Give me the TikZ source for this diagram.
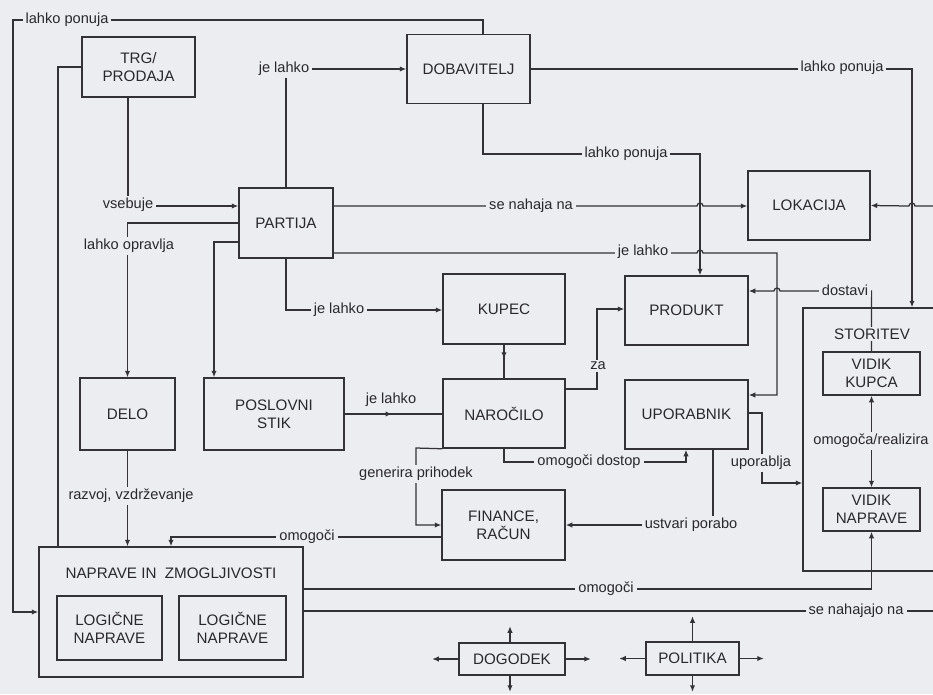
\documentclass[tikz,border=0pt]{standalone}
\usepackage{fontspec}
\setmainfont{Liberation Sans}
\usetikzlibrary{arrows.meta}
\definecolor{bg}{RGB}{236,237,240}
\definecolor{ln}{RGB}{50,50,55}
\definecolor{tx}{RGB}{40,40,45}
\newcommand{\fsz}{\fontsize{14.6pt}{18pt}\selectfont}
\newcommand{\bsz}{\fontsize{15.2pt}{18pt}\selectfont}
\begin{document}
\begin{tikzpicture}[x=1pt,y=-1pt,
  box/.style={draw=ln, line width=1.5pt, fill=bg, text=tx, align=center, inner sep=0pt, font=\bsz},
  lbl/.style={fill=bg, text=tx, inner xsep=3pt, inner ysep=2pt, font=\fsz},
  plain/.style={text=tx, inner sep=1pt, font=\fsz},
  con/.style={draw=ln, line width=1.25pt},
  arr/.style={con, -{Latex[length=6.5pt,width=5.5pt]}},
  darr/.style={con, {Latex[length=6.5pt,width=5.5pt]}-{Latex[length=6.5pt,width=5.5pt]}},
]
\useasboundingbox (0,0) rectangle (933,694);
\fill[bg] (0,0) rectangle (933,694);
\clip (0,0) rectangle (933,694);

% boxes
\node[box, minimum width=113pt, minimum height=60pt] (trg) at (138.5,67) {TRG/\\PRODAJA};
\node[box, minimum width=123pt, minimum height=69pt] (dob) at (468.5,69) {DOBAVITELJ};
\node[box, minimum width=94pt, minimum height=70pt] (part) at (286,223) {PARTIJA};
\node[box, minimum width=122pt, minimum height=69pt] (lok) at (809,205.5) {LOKACIJA};
\node[box, minimum width=122pt, minimum height=70pt] (kup) at (504,309) {KUPEC};
\node[box, minimum width=123pt, minimum height=69pt] (prod) at (686.5,310.5) {PRODUKT};
\node[box, minimum width=122pt, minimum height=69pt] (nar) at (504,413.5) {NAROČILO};
\node[box, minimum width=123pt, minimum height=69pt] (upo) at (686.5,414.5) {UPORABNIK};
\node[box, minimum width=95pt, minimum height=72pt] (delo) at (127.5,414) {DELO};
\node[box, minimum width=140pt, minimum height=72pt] (pos) at (274,414) {POSLOVNI\\STIK};
\node[box, minimum width=123pt, minimum height=70pt] (fin) at (503.5,525) {FINANCE,\\RAČUN};
\node[box, minimum width=264pt, minimum height=130pt] (nap) at (171,612) {};
\node[plain, font=\bsz] (naptitle) at (171,573) {NAPRAVE IN\ \ ZMOGLJIVOSTI};
\node[box, minimum width=105pt, minimum height=64pt] (log1) at (109.5,628) {LOGIČNE\\NAPRAVE};
\node[box, minimum width=107pt, minimum height=64pt] (log2) at (232.5,628) {LOGIČNE\\NAPRAVE};
\node[box, minimum width=160pt, minimum height=263pt] (stor) at (883,439.5) {};
\node[box, minimum width=97pt, minimum height=43pt] (vkup) at (871.5,373.5) {VIDIK\\KUPCA};
\node[box, minimum width=97pt, minimum height=43pt] (vnap) at (871.5,509.5) {VIDIK\\NAPRAVE};
\node[box, minimum width=106pt, minimum height=32pt] (dog) at (512,659) {DOGODEK};
\node[box, minimum width=93pt, minimum height=33pt] (pol) at (692.5,658.5) {POLITIKA};

\coordinate (redgeA) at (933,206);
\coordinate (redgeB) at (933,611);

% connectors
\draw[arr] ([xshift=14.5pt]dob.north) |- (13,20) |- (nap.west);
\draw[arr] (part.north) |- (dob.west);
\draw[arr] (trg.south -| 128,0) |- (part.west |- 0,206);
\draw[con] (trg.west) -| (nap.north -| 58,0);
\draw[arr] (part.west) -| (delo.north);
\draw[arr] (part.west |- 0,242) -| (pos.north -| 214,0);
\draw[arr] (part.south) |- (kup.west |- 0,310);
\draw[arr] (part.east |- 0,206) -- (697,206) arc[start angle=180,end angle=0,radius=3pt] -- (lok.west |- 0,206);
\draw[arr] (part.east |- 0,253) -- (697,253) arc[start angle=180,end angle=0,radius=3pt] -- (777,253) |- (upo.east |- 0,395);
\draw[arr] ([xshift=14.5pt]dob.south) |- (700,154) -- (prod.north -| 700,0);
\draw[arr] (dob.east) -| (stor.north -| 912,0);
\draw[arr] (redgeA) -- (915,206) arc[start angle=0,end angle=180,radius=3pt] -- (lok.east);
\draw[arr] (vkup.north) -- (871.5,291) -- (780,291) arc[start angle=0,end angle=180,radius=3pt] -- (prod.east |- 0,291);
\draw[darr] (vkup.south) -- (vnap.north);
\draw[con] (kup.south) -- (nar.north);
\draw[arr] (kup.south) -- ++(0,14);
\draw[con] (pos.east |- 0,414) -- (nar.west |- 0,414);
\draw[arr] (pos.east |- 0,414) -- (392,414);
\draw[arr] (nar.east |- 0,389) -| (597,309) -- (prod.west |- 0,309);
\draw[arr] (nar.south) |- (686,462) -- (upo.south -| 686,0);
\draw[arr] (upo.east |- 0,413) -| (762,483) -- (stor.west |- 0,483);
\draw[arr] (upo.south -| 713,0) |- (fin.east);
\draw[arr] (nar.south west) -- (416,448) |- (fin.west);
\draw[arr] (fin.west |- 0,537) -| (nap.north -| 171,0);
\draw[arr] (delo.south) -- (nap.north -| delo.south);
\draw[arr] (nap.east |- 0,589) -| (vnap.south);
\draw[con] (nap.east |- 0,611) -- (redgeB);
\draw[arr] (dog.north -| 510,0) -- ++(0,-16);
\draw[arr] (dog.south -| 510,0) -- ++(0,16);
\draw[arr] (dog.west) -- ++(-26,0);
\draw[arr] (dog.east) -- ++(25,0);
\draw[arr] (pol.north) -- ++(0,-25);
\draw[arr] (pol.south) -- ++(0,16);
\draw[arr] (pol.west) -- ++(-26,0);
\draw[arr] (pol.east) -- ++(24,0);

% labels
\node[lbl] (l1) at (67,20) {lahko ponuja};
\node[lbl] (l2) at (284,69) {je lahko};
\node[lbl] (l3) at (128,205) {vsebuje};
\node[lbl] (l4) at (129,246) {lahko opravlja};
\node[lbl] (l5) at (531,206) {se nahaja na};
\node[lbl] (l6) at (643,252) {je lahko};
\node[lbl] (l7) at (626,154) {lahko ponuja};
\node[lbl] (l8) at (842,68) {lahko ponuja};
\node[lbl] (l9) at (339,310) {je lahko};
\node[lbl] (l10) at (845,290) {dostavi};
\node[lbl, font=\bsz] (l11) at (872,334) {STORITEV};
\node[lbl] (l12) at (871,441) {omogoča/realizira};
\node[plain] (l13) at (391,400) {je lahko};
\node[lbl] (l14) at (598,366) {za};
\node[lbl] (l15) at (589,462) {omogoči dostop};
\node[lbl] (l16) at (761,463) {uporablja};
\node[lbl] (l17) at (691,525) {ustvari porabo};
\node[lbl] (l18) at (416,474) {generira prihodek};
\node[lbl] (l19) at (307,537) {omogoči};
\node[lbl] (l20) at (131,496) {razvoj, vzdrževanje};
\node[lbl] (l21) at (606,589) {omogoči};
\node[lbl] (l22) at (856,611) {se nahajajo na};
\end{tikzpicture}
\end{document}
